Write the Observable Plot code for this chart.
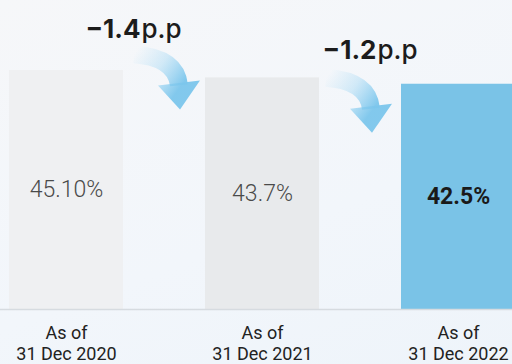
<!DOCTYPE html>
<html><head><meta charset="utf-8">
<script src="https://cdn.jsdelivr.net/npm/d3@7"></script>
<script src="https://cdn.jsdelivr.net/npm/@observablehq/plot@0.6"></script>
<style>
html,body{margin:0;padding:0;background:linear-gradient(160deg,#f6f7f9 0%,#f2f6fb 60%,#eef4fa 100%);overflow:hidden}
#chart{width:512px;height:364px}
</style></head><body><div id="chart"></div>
<script>
// ---- data ----
const categories = ["2020", "2021", "2022"];
const tickLabels = ["As of\n31 Dec 2020", "As of\n31 Dec 2021", "As of\n31 Dec 2022"];
const values = [45.1, 43.7, 42.5];
const valueLabels = ["45.10%", "43.7%", "42.5%"];
const deltaFrom = ["2020", "2021"];
const deltaTo = ["2021", "2022"];
const deltaValues = ["−1.4", "−1.2"];
const deltaUnit = "p.p";

// ---- styles / layout ----
const barColors = ["#eff0f2", "#e8eaec", "#7ac3e7"];
const annotLayout = [
  {labelDx: -122, labelDy: -48, tipDx: -25, tipDy: 32},
  {labelDx: -82, labelDy: -34, tipDx: -29, tipDy: 49}
];

const bars = categories.map((c, i) => ({cat: c, value: values[i], label: valueLabels[i], color: barColors[i]}));
const deltas = deltaTo.map((t, i) => ({from: deltaFrom[i], to: t, text: deltaValues[i], toValue: values[categories.indexOf(t)]}));

function arrowMark(index, scales) {
  const g = d3.create("svg:g");
  const defs = g.append("defs");
  deltas.forEach((d, i) => {
    const L = annotLayout[i];
    const tx = scales.x(d.to) + L.tipDx, ty = scales.y(d.toValue) + L.tipDy;
    const sx = tx - 46, sy = ty - 55;
    const id = "arrowgrad" + i;
    const grad = defs.append("linearGradient").attr("id", id).attr("gradientUnits", "userSpaceOnUse")
      .attr("x1", sx).attr("y1", sy).attr("x2", tx).attr("y2", ty - 22);
    grad.append("stop").attr("offset", 0).attr("stop-color", "#9ad5f3").attr("stop-opacity", 0.0);
    grad.append("stop").attr("offset", 0.5).attr("stop-color", "#8fd0f2").attr("stop-opacity", 0.35);
    grad.append("stop").attr("offset", 1).attr("stop-color", "#7cc6ec").attr("stop-opacity", 0.95);
    g.append("path")
      .attr("d", `M${sx},${sy} Q${tx - 4},${ty - 52} ${tx - 1},${ty - 24}`)
      .attr("fill", "none").attr("stroke", `url(#${id})`).attr("stroke-width", 18);
    g.append("path")
      .attr("d", `M${tx - 22},${ty - 24} L${tx + 20},${ty - 29} L${tx},${ty} Z`)
      .attr("fill", `url(#${id})`);
  });
  return g.node();
}

const deltaMarks = deltas.flatMap((d, i) => {
  const L = annotLayout[i];
  return [
    Plot.text([d], {x: "to", y: "toValue", text: "text", dx: L.labelDx, dy: L.labelDy,
      textAnchor: "end", fontSize: 26, fontWeight: 700, fill: "#1c1c1c", fontFamily: "Inter"}),
    Plot.text([d], {x: "to", y: "toValue", text: () => deltaUnit, dx: L.labelDx + 1, dy: L.labelDy,
      textAnchor: "start", fontSize: 26, fontWeight: 500, fill: "#1c1c1c", fontFamily: "Inter"})
  ];
});

const chart = Plot.plot({
  width: 512,
  height: 364,
  marginTop: 0,
  marginBottom: 55,
  marginLeft: 0,
  marginRight: 0,
  style: {background: "transparent", fontFamily: "Roboto", overflow: "hidden"},
  x: {domain: categories, range: [-32, 556], paddingInner: 0.42, paddingOuter: 0.21},
  y: {domain: [0, 58.3], axis: null},
  marks: [
    Plot.barY(bars, {x: "cat", y: "value", fill: "color"}),
    Plot.ruleY([0], {stroke: "#d6dbe0", strokeWidth: 1.5}),
    Plot.text(bars.slice(0, 2), {x: "cat", y: d => d.value / 2, text: "label",
      fontSize: 23, fontWeight: 300, fill: "#4a4a4a"}),
    Plot.text(bars.slice(2), {x: "cat", y: d => d.value / 2, text: "label",
      fontSize: 23, fontWeight: 700, fill: "#1a1a1a", style: "letter-spacing:1px"}),
    arrowMark,
    ...deltaMarks,
    Plot.axisX({tickSize: 0, tickPadding: 15, fontSize: 18, lineHeight: 1.14, color: "#222",
      label: null, tickFormat: d => tickLabels[categories.indexOf(d)]})
  ]
});
document.getElementById("chart").appendChild(chart);
</script>
</body></html>
